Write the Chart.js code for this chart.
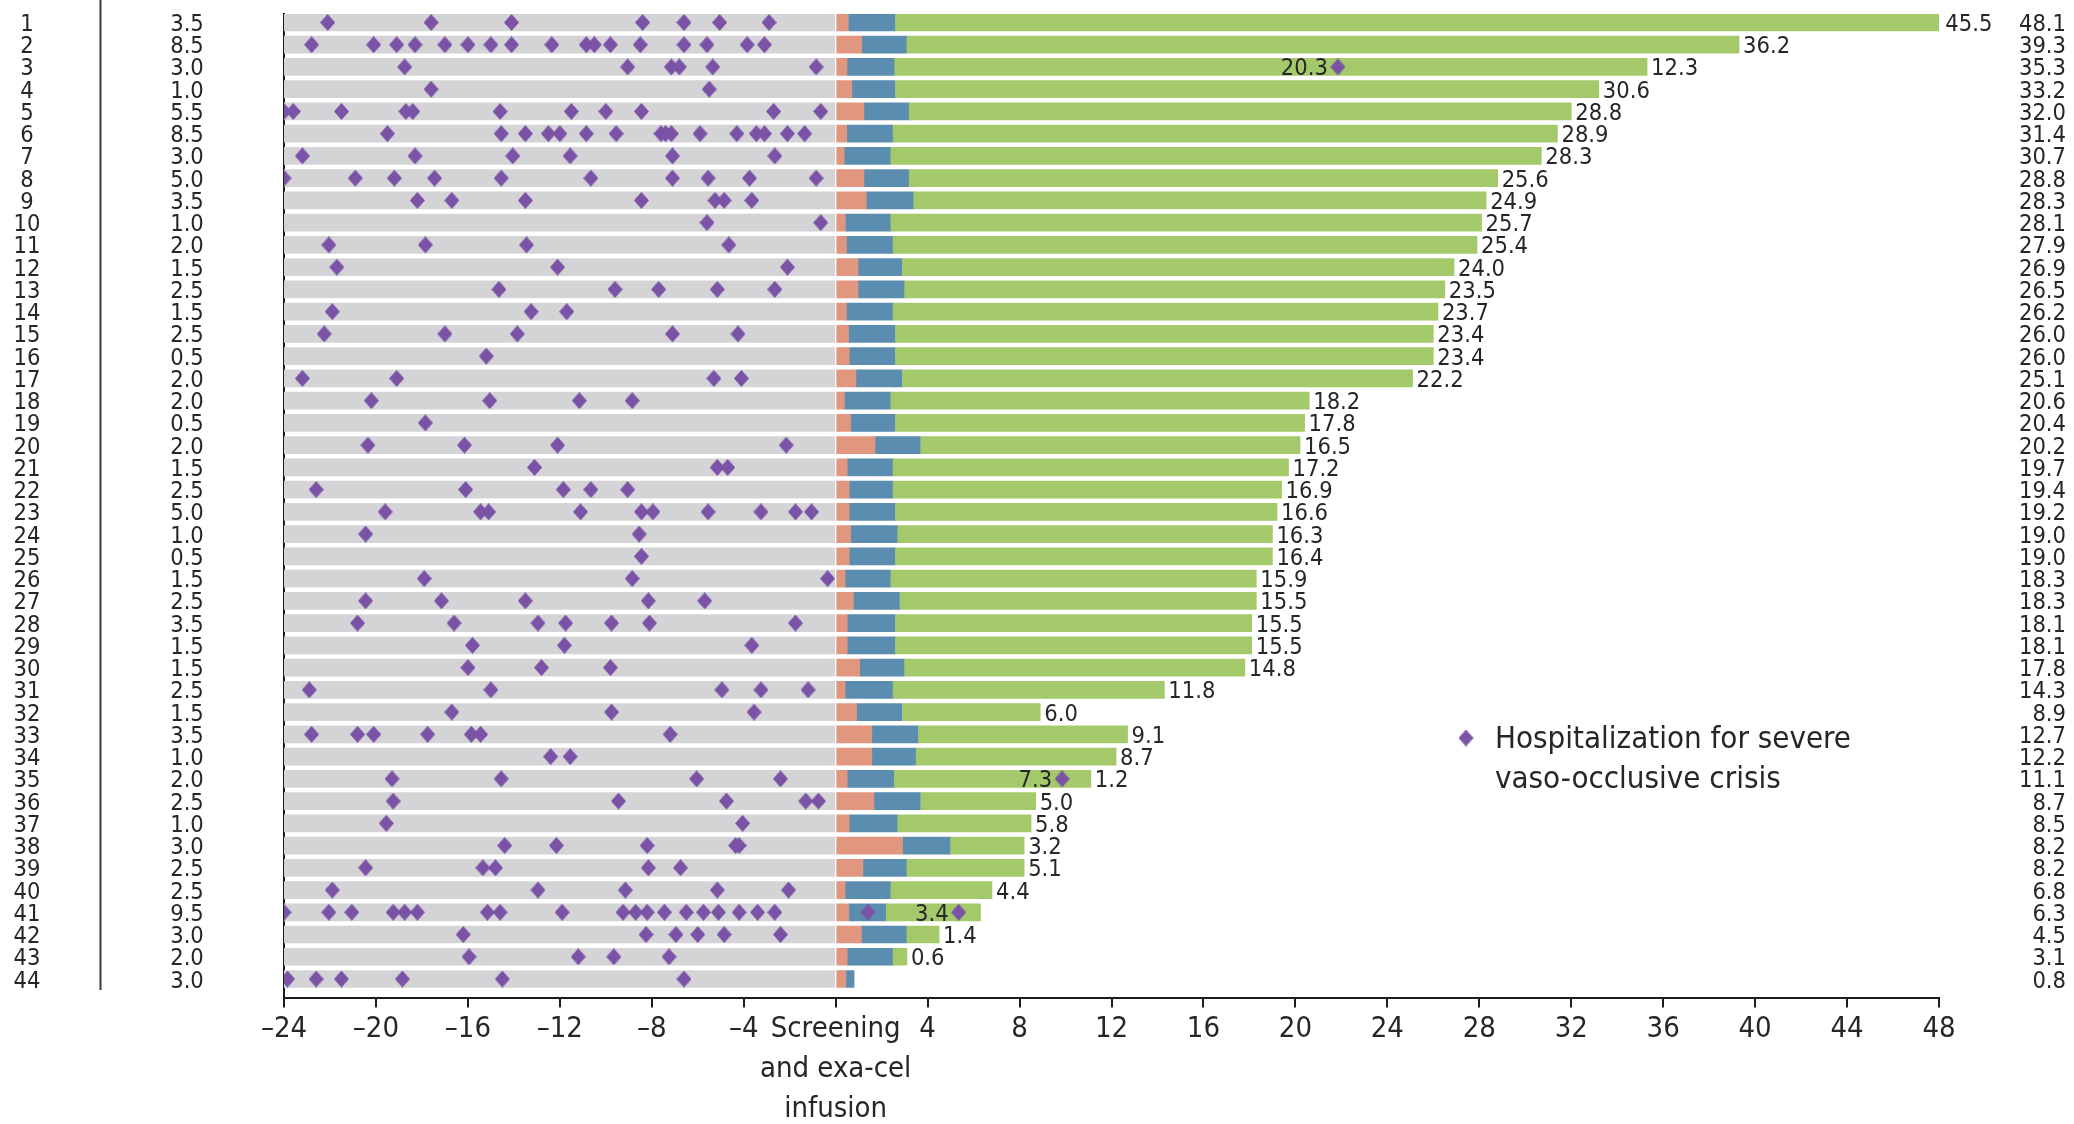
<!DOCTYPE html>
<html>
<head>
<meta charset="utf-8">
<title>Vaso-occlusive crises before and after exa-cel infusion</title>
<script src="https://cdn.jsdelivr.net/npm/chart.js@4.4.1/dist/chart.umd.min.js"></script>
<style>
  html, body { margin: 0; padding: 0; background: #ffffff; }
  #wrap { position: relative; width: 2074px; height: 1124px; }
</style>
</head>
<body>
<div id="wrap"><canvas id="chart" width="2074" height="1124"></canvas></div>
<script>
// ---- data -------------------------------------------------------------
const patients = ['1','2','3','4','5','6','7','8','9','10','11','12','13','14','15','16','17','18','19','20','21','22',
  '23','24','25','26','27','28','29','30','31','32','33','34','35','36','37','38','39','40','41','42','43','44'];

// annualized rate of severe VOCs in the 2 years before screening
const vocRateBefore = [3.5, 8.5, 3.0, 1.0, 5.5, 8.5, 3.0, 5.0, 3.5, 1.0, 2.0, 1.5, 2.5, 1.5, 2.5, 0.5, 2.0, 2.0, 0.5, 2.0, 1.5, 2.5,
  5.0, 1.0, 0.5, 1.5, 2.5, 3.5, 1.5, 1.5, 2.5, 1.5, 3.5, 1.0, 2.0, 2.5, 1.0, 3.0, 2.5, 2.5, 9.5, 3.0, 2.0, 3.0];

// total follow-up after exa-cel infusion (months)
const followUp = [48.1, 39.3, 35.3, 33.2, 32.0, 31.4, 30.7, 28.8, 28.3, 28.1, 27.9, 26.9, 26.5, 26.2, 26.0, 26.0, 25.1, 20.6,
  20.4, 20.2, 19.7, 19.4, 19.2, 19.0, 19.0, 18.3, 18.3, 18.1, 18.1, 17.8, 14.3, 8.9, 12.7, 12.2, 11.1, 8.7, 8.5, 8.2, 8.2,
  6.8, 6.3, 4.5, 3.1, 0.8];

// duration of the latest VOC-free period (months)
const vocFreeMonths = [45.5, 36.2, 12.3, 30.6, 28.8, 28.9, 28.3, 25.6, 24.9, 25.7, 25.4, 24.0, 23.5, 23.7, 23.4, 23.4, 22.2,
  18.2, 17.8, 16.5, 17.2, 16.9, 16.6, 16.3, 16.4, 15.9, 15.5, 15.5, 15.5, 14.8, 11.8, 6.0, 9.1, 8.7, 1.2, 5.0, 5.8, 3.2, 5.1,
  4.4, null, 1.4, 0.6, null];

// end of the first post-infusion phase (months)
const firstPhaseEnd = [0.58, 1.16, 0.52, 0.73, 1.26, 0.51, 0.40, 1.26, 1.36, 0.45, 0.50, 1.0, 1.0, 0.50, 0.59, 0.62, 0.91, 0.41,
  0.68, 1.74, 0.53, 0.62, 0.62, 0.68, 0.62, 0.44, 0.80, 0.53, 0.53, 1.07, 0.44, 0.94, 1.60, 1.60, 0.53, 1.69, 0.62, 2.94,
  1.21, 0.44, 0.60, 1.15, 0.53, 0.47];

// start of the VOC-free evaluation where it is not set by the final VOC-free period
const evalStartByPatient = { 3: 2.57, 35: 2.55, 41: 2.2, 44: 0.8 };

// hospitalizations for severe VOC in the 24 months before screening (months, negative)
const vocBefore = [
  [-22.1, -17.6, -14.1, -8.4, -6.6, -5.05, -2.9],
  [-22.8, -20.1, -19.1, -18.3, -17.0, -16.0, -15.0, -14.1, -12.35, -10.85, -10.5, -9.8, -8.5, -6.6, -5.6, -3.85, -3.1],
  [-18.75, -9.05, -7.15, -6.8, -5.35, -0.85],
  [-17.6, -5.5],
  [-24.0, -23.6, -21.5, -18.7, -18.4, -14.6, -11.5, -10.0, -8.45, -2.7, -0.65],
  [-19.5, -14.55, -13.5, -12.5, -12.0, -10.85, -9.55, -7.6, -7.4, -7.15, -5.9, -4.3, -3.45, -3.1, -2.1, -1.35],
  [-23.2, -18.3, -14.05, -11.55, -7.1, -2.65],
  [-24.0, -20.9, -19.2, -17.45, -14.55, -10.65, -7.1, -5.55, -3.75, -0.85],
  [-18.2, -16.7, -13.5, -8.45, -5.25, -4.85, -3.65],
  [-5.6, -0.65],
  [-22.05, -17.85, -13.45, -4.65],
  [-21.7, -12.1, -2.1],
  [-14.65, -9.6, -7.7, -5.15, -2.65],
  [-21.9, -13.25, -11.7],
  [-22.25, -17.0, -13.85, -7.1, -4.25],
  [-15.2],
  [-23.2, -19.1, -5.3, -4.1],
  [-20.2, -15.05, -11.15, -8.85],
  [-17.85],
  [-20.35, -16.15, -12.1, -2.15],
  [-13.1, -5.15, -4.7],
  [-22.6, -16.1, -11.85, -10.65, -9.05],
  [-19.6, -15.45, -15.1, -11.1, -8.45, -7.95, -5.55, -3.25, -1.75, -1.05],
  [-20.45, -8.55],
  [-8.45],
  [-17.9, -8.85, -0.35],
  [-20.45, -17.15, -13.5, -8.15, -5.7],
  [-20.8, -16.6, -12.95, -11.75, -9.75, -8.1, -1.75],
  [-15.8, -11.8, -3.65],
  [-16.0, -12.8, -9.8],
  [-22.9, -15.0, -4.95, -3.25, -1.2],
  [-16.7, -9.75, -3.55],
  [-22.8, -20.8, -20.1, -17.75, -15.85, -15.45, -7.2],
  [-12.4, -11.55],
  [-19.3, -14.55, -6.05, -2.4],
  [-19.25, -9.45, -4.75, -1.3, -0.75],
  [-19.55, -4.05],
  [-14.4, -12.15, -8.2, -4.35, -4.2],
  [-20.45, -15.35, -14.8, -8.15, -6.75],
  [-21.9, -12.95, -9.15, -5.15, -2.05],
  [-24.0, -22.05, -21.05, -19.25, -18.75, -18.2, -15.15, -14.6, -11.9, -9.25, -8.7, -8.2, -7.45, -6.5, -5.75, -5.1, -4.2, -3.4, -2.65],
  [-16.2, -8.25, -6.95, -6.0, -4.85, -2.4],
  [-15.95, -11.2, -9.65, -7.25],
  [-23.85, -22.6, -21.5, -18.85, -14.5, -6.6]
];

// hospitalizations for severe VOC after infusion (months)
const vocAfterByPatient = { 3: [21.85], 35: [9.85], 41: [1.4, 5.35] };
// VOC-free months preceding a post-infusion event
const vocFreeBeforeEventByPatient = { 3: 20.3, 35: 7.3, 41: 3.4 };

// x-axis tick label at month 0
const zeroTickLabel = ['Screening', 'and exa-cel', 'infusion'];
const legendLines = ['Hospitalization for severe', 'vaso-occlusive crisis'];

// ---- styling ------------------------------------------------------------
const FONT = '"DejaVu Sans Condensed", "DejaVu Sans", sans-serif';
const ROW_FONT = 'condensed 23.5px ' + FONT;
const LEGEND_FONT = 'condensed 31px ' + FONT;
const TEXT = '#262626';
const AXIS = '#1c1c1c';
const GRAY = '#d4d4d6';
const SALMON = '#e1977f';
const BLUE = '#5b8db0';
const GREEN = '#a4c96a';
const PURPLE = '#7a52a6';

function makeDiamond(w, h, color) {
  const c = document.createElement('canvas');
  c.width = w; c.height = h;
  const g = c.getContext('2d');
  g.fillStyle = color;
  g.beginPath();
  g.moveTo(w / 2, 0); g.lineTo(w, h / 2); g.lineTo(w / 2, h); g.lineTo(0, h / 2);
  g.closePath(); g.fill();
  return c;
}
const diamond = makeDiamond(15, 17, PURPLE);

// ---- derived series -----------------------------------------------------
const evalStart = patients.map((p, i) =>
  evalStartByPatient[p] !== undefined ? evalStartByPatient[p] : +(followUp[i] - vocFreeMonths[i]).toFixed(2));

function segments(from, to) {
  const out = [];
  patients.forEach((p, i) => {
    const a = from[i], b = to[i];
    if (b > a) out.push({ x: [a, b], y: i + 1 });
  });
  return out;
}
const zeros = patients.map(() => 0);
const starts = patients.map(() => -24);

const eventPoints = [];
vocBefore.forEach((list, i) => list.forEach(m => eventPoints.push({ x: m, y: i + 1 })));
patients.forEach((p, i) => (vocAfterByPatient[p] || []).forEach(m => eventPoints.push({ x: m, y: i + 1 })));

const barCommon = { type: 'bar', grouped: false, barThickness: 17, borderWidth: 0, order: 2 };

// ---- text drawn alongside the rows ----------------------------------------
const rowText = {
  id: 'rowText',
  afterDraw(chart) {
    const { ctx, scales: { x, y } } = chart;
    ctx.save();
    // divider between patient numbers and pre-screening rates
    ctx.strokeStyle = '#3a3a3a';
    ctx.lineWidth = 2;
    ctx.beginPath();
    ctx.moveTo(100.5, 0);
    ctx.lineTo(100.5, 990);
    ctx.stroke();

    ctx.fillStyle = TEXT;
    ctx.font = ROW_FONT;
    ctx.textBaseline = 'alphabetic';
    const dy = 8.5;
    patients.forEach((p, i) => {
      const py = y.getPixelForValue(i + 1) + dy;
      ctx.textAlign = 'center';
      ctx.fillText(p, 27, py);
      ctx.fillText(vocRateBefore[i].toFixed(1), 187, py);
      ctx.textAlign = 'right';
      ctx.fillText(followUp[i].toFixed(1), 2066, py);
      if (vocFreeMonths[i] !== null) {
        ctx.textAlign = 'left';
        ctx.fillText(vocFreeMonths[i].toFixed(1), x.getPixelForValue(followUp[i]) + 4, py);
      }
      const interim = vocFreeBeforeEventByPatient[p];
      if (interim !== undefined) {
        const ev = vocAfterByPatient[p];
        ctx.textAlign = 'right';
        ctx.fillText(interim.toFixed(1), x.getPixelForValue(ev[ev.length - 1]) - 10, py);
      }
    });

    // legend
    ctx.drawImage(diamond, 1466 - diamond.width / 2, 738 - diamond.height / 2);
    ctx.font = LEGEND_FONT;
    ctx.textAlign = 'left';
    ctx.fillText(legendLines[0], 1495, 748);
    ctx.fillText(legendLines[1], 1495, 788);
    ctx.restore();
  }
};

new Chart(document.getElementById('chart'), {
  type: 'bar',
  data: {
    datasets: [
      { type: 'scatter', indexAxis: 'x', data: eventPoints, pointStyle: diamond, pointRadius: 8,
        pointHoverRadius: 8, order: 0 },
      Object.assign({ data: segments(evalStart, followUp), backgroundColor: GREEN }, barCommon),
      Object.assign({ data: segments(firstPhaseEnd, evalStart), backgroundColor: BLUE }, barCommon),
      Object.assign({ data: segments(zeros, firstPhaseEnd), backgroundColor: SALMON }, barCommon),
      Object.assign({ data: segments(starts, zeros), backgroundColor: GRAY }, barCommon)
    ]
  },
  options: {
    indexAxis: 'y',
    responsive: false,
    animation: false,
    devicePixelRatio: 1,
    layout: { padding: { top: 14, right: 135, left: 0, bottom: 0 } },
    plugins: { legend: { display: false }, tooltip: { enabled: false } },
    scales: {
      y: {
        type: 'linear',
        reverse: true,
        offset: false,
        min: 0.62,
        max: 44.83,
        grid: { display: false, offset: false },
        ticks: { display: false },
        border: { display: true, color: AXIS, width: 2 },
        afterFit: s => { s.width = 284; }
      },
      x: {
        type: 'linear',
        offset: false,
        min: -24,
        max: 48,
        grid: { display: true, offset: false, drawOnChartArea: false, drawTicks: true, tickLength: 10, color: AXIS, lineWidth: 2 },
        border: { display: true, color: AXIS, width: 2 },
        ticks: {
          stepSize: 4,
          autoSkip: false,
          maxRotation: 0,
          padding: 1.5,
          color: TEXT,
          font: { family: FONT, style: 'condensed', size: 29, lineHeight: 1.38 },
          callback: v => v === 0 ? zeroTickLabel : (v < 0 ? '\u2013' + Math.abs(v) : String(v))
        },
        afterFit: s => { s.height = 126.5; }
      }
    }
  },
  plugins: [rowText]
});
</script>
</body>
</html>
